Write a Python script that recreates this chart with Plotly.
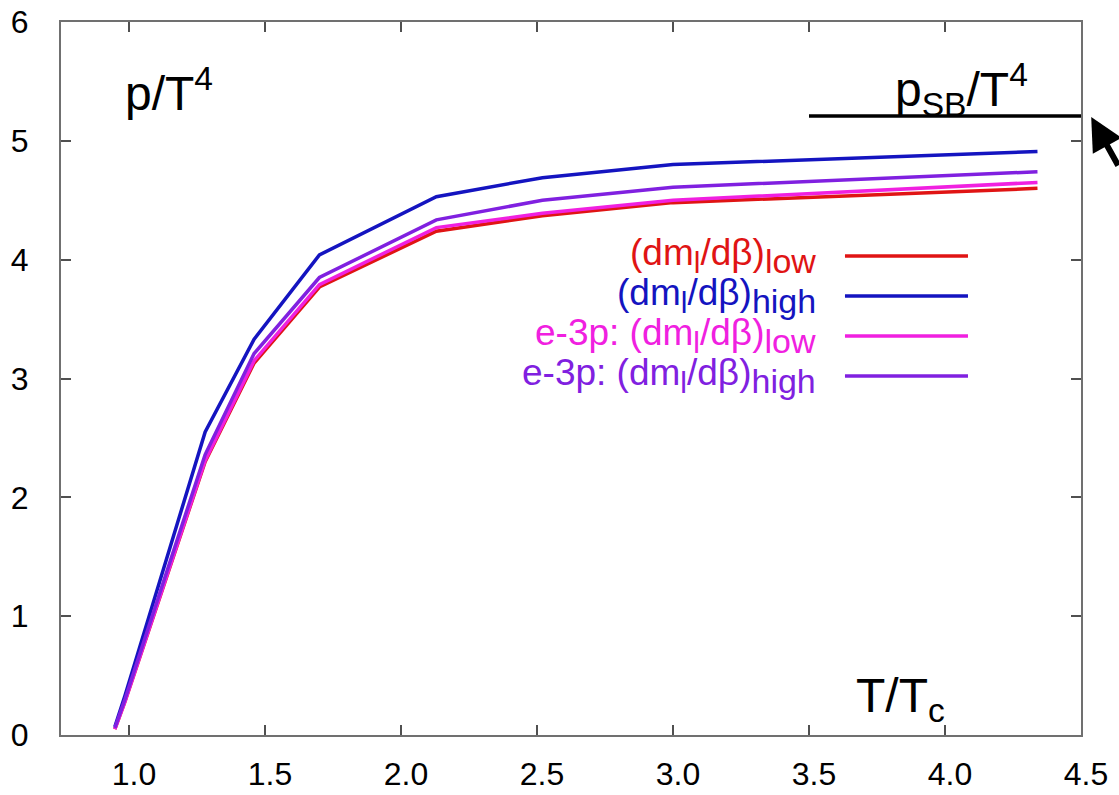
import plotly.graph_objects as go

# Temperature grid (T/Tc) and pressure p/T^4 for each determination
t_over_tc = [0.948, 0.985, 1.28, 1.46, 1.70, 2.13, 2.52, 3.00, 4.34]
p_low = [0.05, 0.28, 2.30, 3.13, 3.77, 4.24, 4.37, 4.48, 4.60]
p_high = [0.07, 0.33, 2.55, 3.33, 4.04, 4.53, 4.69, 4.80, 4.91]
p_e3p_low = [0.05, 0.28, 2.31, 3.15, 3.79, 4.27, 4.39, 4.50, 4.65]
p_e3p_high = [0.06, 0.30, 2.36, 3.21, 3.85, 4.335, 4.50, 4.61, 4.74]

# Stefan-Boltzmann limit and the T/Tc span over which it is drawn
p_sb = 5.21
sb_span = [3.5, 4.5]

x_ticks = [1.0, 1.5, 2.0, 2.5, 3.0, 3.5, 4.0, 4.5]
y_ticks = [0, 1, 2, 3, 4, 5, 6]

SUB_L = "<sub><span style='font-size:30px'>l</span></sub>"


def key_label(prefix, which):
    return f"{prefix}(dm{SUB_L}/dβ)<sub><span style='font-size:34px'>{which}</span></sub>"


series = [
    (key_label("", "low"), p_low, "#e01414"),
    (key_label("", "high"), p_high, "#1414c0"),
    (key_label("e-3p: ", "low"), p_e3p_low, "#f020e0"),
    (key_label("e-3p: ", "high"), p_e3p_high, "#8020e0"),
]

FONT = "Liberation Sans, Arial, sans-serif"

fig = go.Figure()
for name, vals, col in series:
    fig.add_trace(go.Scatter(x=t_over_tc, y=vals, mode="lines",
                             line=dict(color=col, width=3.5),
                             showlegend=False, hoverinfo="skip"))

# Stefan-Boltzmann reference line
fig.add_trace(go.Scatter(x=sb_span, y=[p_sb, p_sb], mode="lines",
                         line=dict(color="black", width=3.5),
                         showlegend=False, hoverinfo="skip", cliponaxis=False))

annotations = []
shapes = []
# Key: text on the left, sample line on the right
row_y = [0.6718, 0.6157, 0.5596, 0.5035]
for (name, vals, col), yy in zip(series, row_y):
    annotations.append(dict(xref="paper", yref="paper", x=0.742, y=yy,
                            xanchor="right", yanchor="middle", text=name,
                            showarrow=False, font=dict(family=FONT, size=37, color=col)))
    shapes.append(dict(type="line", xref="paper", yref="paper",
                       x0=0.7686, x1=0.8892, y0=yy, y1=yy,
                       line=dict(color=col, width=3.5)))

annotations += [
    dict(xref="paper", yref="paper", x=0.106, y=0.905, xanchor="center", yanchor="middle",
         text="p/T<sup>4</sup>", showarrow=False, font=dict(family=FONT, size=48, color="black")),
    dict(xref="paper", yref="paper", x=0.883, y=0.905, xanchor="center", yanchor="middle",
         text="p<sub>SB</sub>/T<sup>4</sup>", showarrow=False, font=dict(family=FONT, size=48, color="black")),
    dict(xref="paper", yref="paper", x=0.823, y=0.05, xanchor="center", yanchor="middle",
         text="T/T<sub>c</sub>", showarrow=False, font=dict(family=FONT, size=48, color="black")),
    # arrow pointing at the end of the SB line
    dict(xref="paper", yref="paper", x=1.010, y=(735 - 117) / 713, text="",
         showarrow=True, arrowhead=2, arrowsize=1.1, arrowwidth=6, arrowcolor="black",
         ax=42, ay=50, axref="pixel", ayref="pixel"),
]

axis_common = dict(showgrid=False, zeroline=False, showline=True, linecolor="#707070",
                   linewidth=2, mirror="ticks", ticks="inside", ticklen=10, tickwidth=2,
                   tickcolor="#505050", automargin=False,
                   tickfont=dict(family=FONT, size=32, color="black"))

fig.update_layout(
    width=1119, height=795,
    margin=dict(l=61, r=38, t=22, b=60),
    paper_bgcolor="white", plot_bgcolor="white",
    xaxis=dict(range=[0.75, 4.5], tickvals=x_ticks, tickformat=".1f",
               ticklabelstandoff=10, ticklabelshift=5, **axis_common),
    yaxis=dict(range=[0, 6], tickvals=y_ticks, ticklabelstandoff=24, **axis_common),
    annotations=annotations, shapes=shapes,
)

fig.write_html("out.html")
